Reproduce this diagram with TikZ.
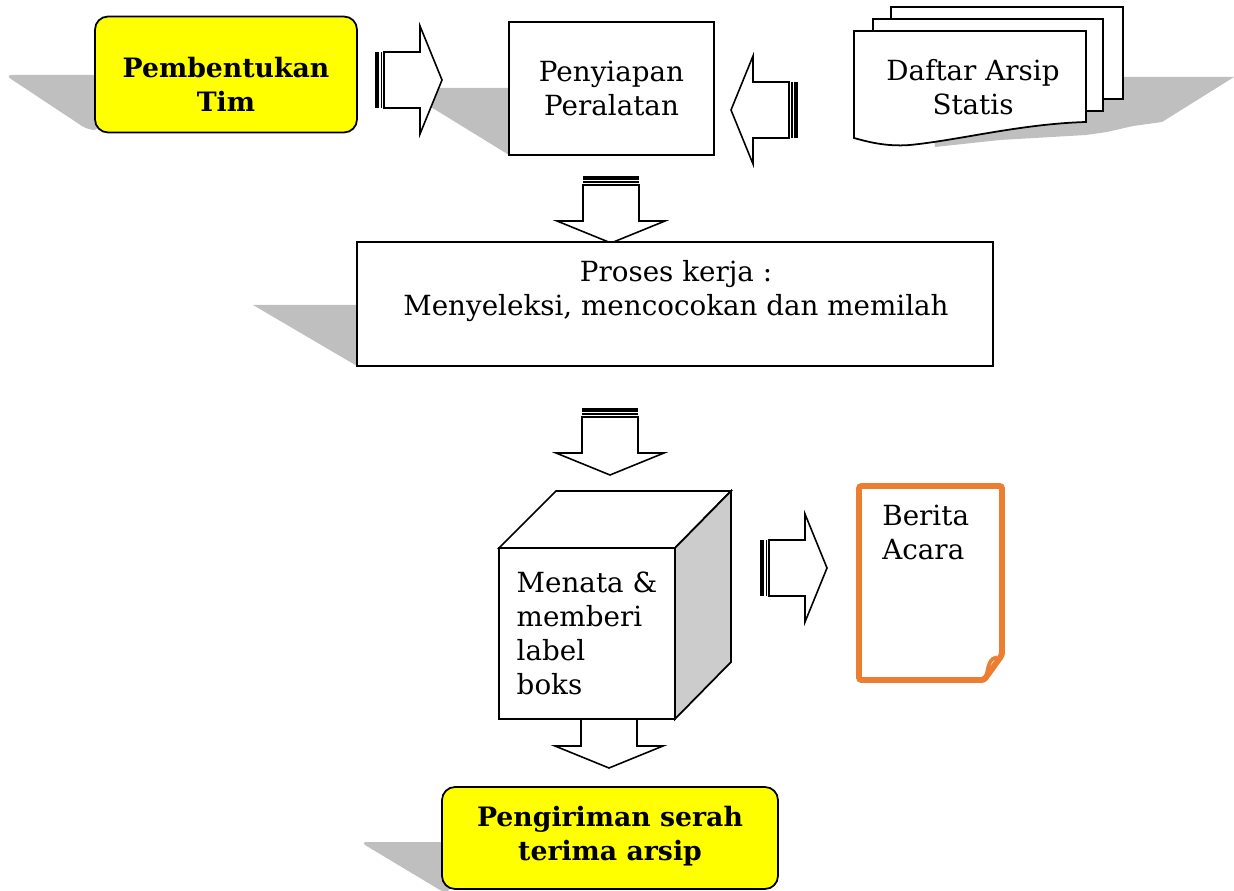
\documentclass[tikz,border=0pt]{standalone}
\usepackage{fontspec}
\setmainfont{DejaVu Serif}

\definecolor{bayangan}{RGB}{191,191,191}
\definecolor{oranye}{RGB}{237,125,49}
\definecolor{kuning}{RGB}{255,255,0}
\definecolor{sisi}{RGB}{204,204,204}

\tikzset{
  kotak/.style={draw, line width=1pt, fill=white, align=center, font=\fontsize{15.8}{19.3}\selectfont},
  bulat/.style={draw, line width=1pt, fill=kuning, rounded corners=0.26cm},
  tebal/.style={align=center, inner sep=0pt, font=\fontsize{15.2}{19}\selectfont\bfseries},
  teks/.style={inner sep=0pt, font=\fontsize{15.8}{19.3}\selectfont},
  pics/panah/.style={code={
    \fill (0,-28) rectangle (4,28);
    \fill (5.5,-28) rectangle (7,28);
    \draw[line width=0.9pt, fill=white] (9,-28) -- (45,-28) -- (45,-54) -- (67,0) -- (45,54) -- (45,28) -- (9,28) -- cycle;
  }}
}

\begin{document}
\begin{tikzpicture}[x=0.02cm, y=-0.02cm]
  \useasboundingbox (0,0) rectangle (1234,891);

  % Bayangan
  \fill[bayangan, rounded corners=4pt] (100,75) -- (5,75) -- (88,130) -- (100,130) -- cycle;
  \fill[bayangan] (515,88) -- (400,88) -- (509,155) -- (515,155) -- cycle;
  \fill[bayangan] (1100,77) -- (1234,77) -- (1162,122) -- (1133,126) -- (1107,132) -- (1086,135) -- (1000,140) -- (935,147) -- (930,100) -- cycle;
  \fill[bayangan] (360,305) -- (253,305) -- (357,366) -- (360,366) -- cycle;
  \fill[bayangan, rounded corners=4pt] (450,842) -- (360,842) -- (445,893) -- (450,893) -- cycle;

  % Panah blok
  \pic at (375,80) {panah};
  \pic[rotate=180] at (798,110) {panah};
  \pic[rotate=-90] at (611,176) {panah};
  \pic[rotate=-90] at (610,408) {panah};
  \pic at (760,568) {panah};
  \pic[rotate=-90] at (609,701) {panah};

  % Baris atas
  \node[bulat, minimum width=5.24cm, minimum height=2.32cm] (tim) at (226,74.5) {};
  \node[tebal] (timteks) at (226,84.5) {Pembentukan\\Tim};
  \node[kotak, minimum width=4.1cm, minimum height=2.66cm] (alat) at (611.5,88.5) {Penyiapan\\Peralatan};

  % Dokumen bertumpuk
  \draw[line width=1pt, fill=white] (891,7) rectangle (1123,99);
  \draw[line width=1pt, fill=white] (873,19) rectangle (1103,111);
  \draw[line width=1pt, fill=white] (854,31) -- (1086,31) -- (1086,122)
    .. controls (1020,124) and (960,140) .. (910,145)
    .. controls (885,147) and (865,141) .. (854,138) -- cycle;
  \node[teks, align=center] (daftar) at (973,87) {Daftar Arsip\\Statis};

  % Proses kerja
  \node[kotak, minimum width=12.72cm, minimum height=2.48cm] (proses) at (675,304) {};
  \node[teks, align=center, anchor=north] (kerja) at (676,260) {Proses kerja :\\Menyeleksi, mencocokan dan memilah};

  % Kubus
  \draw[line width=1pt, fill=white] (499,548) -- (556,491) -- (731,491) -- (675,548) -- cycle;
  \draw[line width=1pt, fill=sisi] (675,548) -- (731,491) -- (731,662) -- (675,719) -- cycle;
  \node[kotak, align=left, minimum width=3.52cm, minimum height=3.42cm] (kubus) at (587,633.5) {Menata \&\\memberi\\label\\boks};

  % Berita acara
  \draw[oranye, line width=3.4pt, rounded corners=1.5pt] (859,486) -- (1002,486) -- (1002,655) -- (984,680) -- (859,680) -- cycle;
  \draw[oranye, line width=2pt] (986,678) .. controls (988,665) and (990,658) .. (997,657);
  \node[teks, align=left, anchor=north west] (berita) at (882,505) {Berita\\Acara};

  % Pengiriman
  \node[bulat, minimum width=6.72cm, minimum height=2.04cm] (kirim) at (610,838) {};
  \node[tebal] (kirimteks) at (610,836) {Pengiriman serah\\terima arsip};
\end{tikzpicture}
\end{document}
